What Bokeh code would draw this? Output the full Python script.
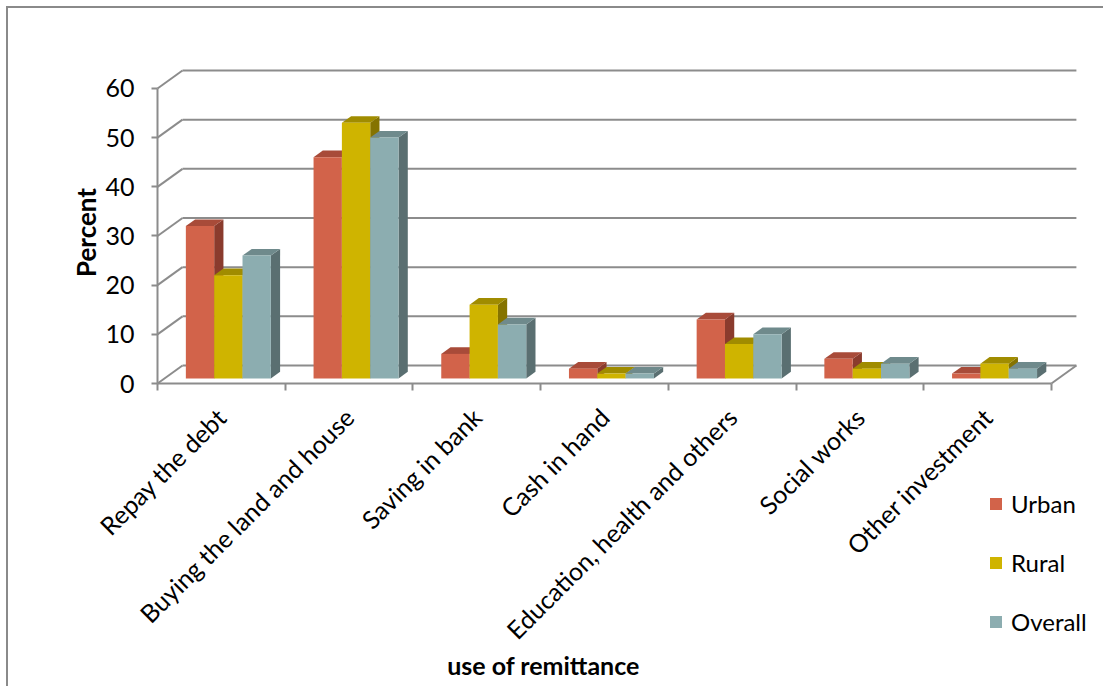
import math
import numpy as np
from bokeh.plotting import figure
from bokeh.models import (Range1d, FixedTicker, ColumnDataSource, Legend, LegendItem, Label)
from bokeh.embed import file_html
from bokeh.resources import INLINE

# ---- data -------------------------------------------------------------
categories = ["Repay the debt", "Buying the land and house", "Saving in bank",
              "Cash in hand", "Education, health and others", "Social works",
              "Other investment"]
urban = [31, 45, 5, 2, 12, 4, 1]
rural = [21, 52, 15, 1, 7, 2, 3]
overall = [25, 49, 11, 1, 9, 3, 2]
series_names = ["Urban", "Rural", "Overall"]
y_ticks = [0, 10, 20, 30, 40, 50, 60]

# front, top, side shades for each series
shades = {
    "Urban": ("#D2634A", "#A84B39", "#8A3B2D"),
    "Rural": ("#CFB400", "#A08C00", "#857300"),
    "Overall": ("#8CADB0", "#6F8A8C", "#5A6F71"),
}
GRID = "#8C8C8C"
FONT = "Lato"

# ---- pseudo-3D geometry (oblique projection) -------------------------
PX_X = 127.7          # pixels per category
PX_Y = 4.9167         # pixels per percent
DX = 25 / PX_X        # full depth offset, x (category units)
DY = 18 / PX_Y        # full depth offset, y (percent units)
BW = 28.33 / PX_X     # bar width
F0, F1 = 0.28, 0.65   # bar front / back depth fractions

W, H = 1097, 680
AXIS_PX_X = 149       # canvas x of the value axis
FLOOR_PX_Y = 375      # canvas y of the zero line
x0 = -0.5 - AXIS_PX_X / PX_X
x1 = x0 + W / PX_X
y1 = FLOOR_PX_Y / PX_Y
y0 = y1 - H / PX_Y

p = figure(width=W, height=H, output_backend="svg", toolbar_location=None,
           x_range=Range1d(x0, x1), y_range=Range1d(y0, y1),
           min_border_left=0, min_border_right=0,
           min_border_top=0, min_border_bottom=0,
           background_fill_color="white", border_fill_color="white")
p.outline_line_color = None
p.grid.visible = False
p.margin = (6, 0, 0, 6)
p.styles = {"border-left": "2px solid #8A8A8A", "border-top": "2px solid #8A8A8A"}

# ---- walls, floor and front value axis -------------------------------
left_edge = -0.5
right_edge = len(categories) - 0.5
gx0, gy0, gx1, gy1 = [], [], [], []
for t in y_ticks:
    # diagonal from the front axis to the back wall
    gx0.append(left_edge); gy0.append(t)
    gx1.append(left_edge + DX); gy1.append(t + DY)
    # back wall gridline
    gx0.append(left_edge + DX); gy0.append(t + DY)
    gx1.append(right_edge + DX); gy1.append(t + DY)
# floor front edge and right diagonal
gx0 += [left_edge, right_edge]; gy0 += [0, 0]
gx1 += [right_edge, right_edge + DX]; gy1 += [0, DY]
# front value axis line
gx0.append(left_edge); gy0.append(0); gx1.append(left_edge); gy1.append(y_ticks[-1])
p.segment(x0=gx0, y0=gy0, x1=gx1, y1=gy1, line_color=GRID, line_width=2)

# ---- bars ------------------------------------------------------------
values = {"Urban": urban, "Rural": rural, "Overall": overall}
side_xs, side_ys, side_c = [], [], []
top_xs, top_ys, top_c = [], [], []
front = {}
ddx = (F1 - F0) * DX
ddy = (F1 - F0) * DY
for j, name in enumerate(series_names):
    vals = np.array(values[name], dtype=float)
    idx = np.arange(len(categories))
    xl = idx - 1.5 * BW + j * BW + F0 * DX
    xr = xl + BW
    yb = np.full_like(vals, F0 * DY)
    yt = vals + F0 * DY
    front[name] = dict(left=xl, right=xr, bottom=yb, top=yt)
    for a, b, lo, hi in zip(xl, xr, yb, yt):
        side_xs.append([b, b, b + ddx, b + ddx])
        side_ys.append([lo, hi, hi + ddy, lo + ddy])
        side_c.append(shades[name][2])
        top_xs.append([a, b, b + ddx, a + ddx])
        top_ys.append([hi, hi, hi + ddy, hi + ddy])
        top_c.append(shades[name][1])

p.patches(xs="xs", ys="ys", fill_color="c", line_color=None,
          source=ColumnDataSource(dict(xs=side_xs, ys=side_ys, c=side_c)))
p.patches(xs="xs", ys="ys", fill_color="c", line_color=None,
          source=ColumnDataSource(dict(xs=top_xs, ys=top_ys, c=top_c)))

items = []
for name in series_names:
    r = p.quad(source=ColumnDataSource(front[name]), left="left", right="right",
               bottom="bottom", top="top", fill_color=shades[name][0], line_color=None)
    items.append(LegendItem(label=name, renderers=[r]))

# ---- axes (pinned to the front axis and the floor) ---------------------
yax = p.yaxis[0]
yax.fixed_location = left_edge
yax.ticker = FixedTicker(ticks=y_ticks, minor_ticks=[])
yax.axis_line_color = None
yax.major_tick_line_color = GRID
yax.major_tick_line_width = 2
yax.major_tick_out = 6
yax.major_tick_in = 0
yax.minor_tick_line_color = None
yax.major_label_standoff = 17
yax.major_label_text_font = FONT
yax.major_label_text_font_size = "25px"
yax.major_label_text_color = "black"

xax = p.xaxis[0]
xax.fixed_location = 0
xax.ticker = FixedTicker(ticks=list(range(len(categories))),
                         minor_ticks=[i - 0.5 for i in range(len(categories) + 1)])
xax.major_label_overrides = {i: c for i, c in enumerate(categories)}
xax.major_label_orientation = math.pi / 4
xax.axis_line_color = None
xax.major_tick_line_color = None
xax.major_tick_out = 0
xax.major_tick_in = 0
xax.minor_tick_line_color = GRID
xax.minor_tick_line_width = 2
xax.minor_tick_out = 7
xax.minor_tick_in = 0
xax.major_label_standoff = 22
xax.major_label_text_font = FONT
xax.major_label_text_font_size = "25px"
xax.major_label_text_color = "black"

# ---- axis titles -------------------------------------------------------
p.add_layout(Label(x=left_edge + (85 - 157) / PX_X, y=(383 - 232) / PX_Y,
                   text="Percent", angle=math.pi / 2, text_align="center",
                   text_baseline="middle", text_font=FONT, text_font_style="bold",
                   text_font_size="26px", text_color="black"))
p.add_layout(Label(x=left_edge + (543 - 157) / PX_X, y=(383 - 664) / PX_Y,
                   text="use of remittance", text_align="center",
                   text_baseline="middle", text_font=FONT, text_font_style="bold",
                   text_font_size="25px", text_color="black"))

# ---- legend ------------------------------------------------------------
legend = Legend(items=items, location=(980, 52), orientation="vertical",
                glyph_width=15, glyph_height=15, label_height=26, spacing=30,
                label_standoff=8, padding=0, margin=0,
                border_line_color=None, background_fill_alpha=0,
                label_text_font=FONT, label_text_font_size="24px",
                label_text_color="black")
p.add_layout(legend)

open("out.html", "w").write(file_html(p, INLINE))
